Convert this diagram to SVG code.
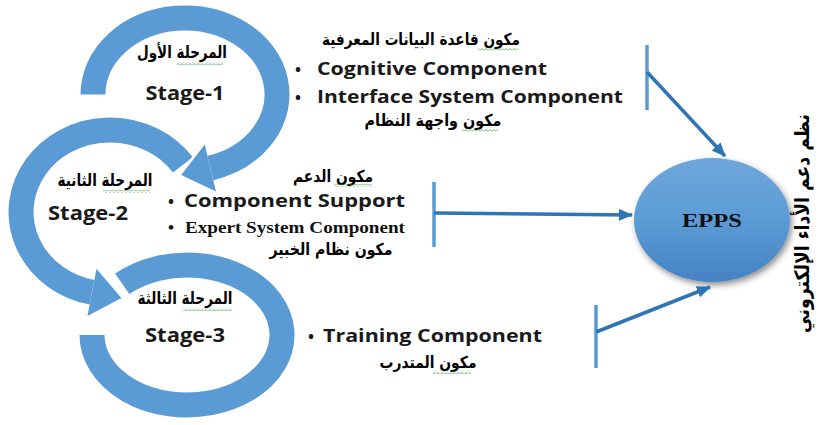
<svg xmlns="http://www.w3.org/2000/svg" width="819" height="425" viewBox="0 0 819 425">
  <style>
    .band { fill: none; stroke: #5B9BD5; stroke-width: 25; stroke-linecap: butt; }
    .band-edge { fill: none; stroke: #FFFFFF; stroke-width: 30; stroke-linecap: butt; }
    .head { fill: #5B9BD5; }
    .head-edge { fill: #FFFFFF; stroke: #FFFFFF; stroke-width: 5; stroke-linejoin: miter; }
    .en { font-family: "Open Sans", "Liberation Sans", sans-serif; font-weight: bold; fill: #1A1A1A; }
    .serif { font-family: "Liberation Serif", "DejaVu Serif", serif; font-weight: bold; fill: #111111; }
    .ar { font-family: "DejaVu Sans", "Noto Sans", sans-serif; font-weight: bold; fill: #000000; }
    .bar { stroke: #5B9BD5; stroke-width: 3.5; fill: none; }
    .arrow { stroke: #2E75B6; stroke-width: 3.5; fill: none; marker-end: url(#tip); }
    .squiggle { fill: url(#wave); }
  </style>
  <defs>
    <marker id="tip" markerUnits="userSpaceOnUse" markerWidth="14" markerHeight="12" refX="13" refY="6" orient="auto">
      <path d="M0,0 L14,6 L0,12 Z" fill="#2E75B6"/>
    </marker>
    <pattern id="wave" patternUnits="userSpaceOnUse" width="4" height="3">
      <path d="M0,2.5 L2,0.5 L4,2.5" fill="none" stroke="#3E9A3E" stroke-width="0.8"/>
    </pattern>
    <linearGradient id="eppsFill" x1="0" y1="0" x2="0" y2="1">
      <stop offset="0" stop-color="#6FA7DB"/>
      <stop offset="0.5" stop-color="#5B9BD5"/>
      <stop offset="1" stop-color="#4682C4"/>
    </linearGradient>
    <filter id="shadow" x="-20%" y="-20%" width="150%" height="160%">
      <feDropShadow dx="2" dy="3" stdDeviation="3" flood-color="#000000" flood-opacity="0.45"/>
    </filter>
  </defs>

  <!-- Stage 3 ring (drawn first, lowest) -->
  <g id="stage3">
    <path class="band-edge" d="M92,335 A95,70 0 1 0 122.2,283.8"/>
    <path class="band" d="M92,335 A95,70 0 1 0 122.2,283.8"/>
    <text class="ar" x="185" y="304" font-size="17" text-anchor="middle" textLength="95" lengthAdjust="spacingAndGlyphs">المرحلة الثالثة</text>
    <rect class="squiggle" x="183" y="308" width="49" height="3"/>
    <text class="en" x="185" y="342" font-size="19" text-anchor="middle" textLength="80" lengthAdjust="spacingAndGlyphs">Stage-3</text>
  </g>

  <!-- Stage 2 ring with arrowhead into stage 3 -->
  <g id="stage2">
    <path class="band-edge" d="M182.9,164.9 A89,82 0 1 0 91.95,292.3"/>
    <polygon class="head-edge" points="87.5,315.9 96.5,268.7 121.4,297.9"/>
    <path class="band" d="M182.9,164.9 A89,82 0 1 0 91.95,292.3"/>
    <polygon class="head" points="87.5,315.9 96.5,268.7 121.4,297.9"/>
    <text class="ar" x="105" y="186" font-size="17" text-anchor="middle" textLength="95" lengthAdjust="spacingAndGlyphs">المرحلة الثانية</text>
    <rect class="squiggle" x="103" y="190" width="47" height="3"/>
    <text class="en" x="88" y="220" font-size="19" text-anchor="middle" textLength="80" lengthAdjust="spacingAndGlyphs">Stage-2</text>
  </g>

  <!-- Stage 1 ring with arrowhead into stage 2 -->
  <g id="stage1">
    <path class="band-edge" d="M93,94.5 A92,76.5 0 1 1 210.4,168"/>
    <polygon class="head-edge" points="216,191.4 204.8,144.6 181.2,175"/>
    <path class="band" d="M93,94.5 A92,76.5 0 1 1 210.4,168"/>
    <polygon class="head" points="216,191.4 204.8,144.6 181.2,175"/>
    <text class="ar" x="182" y="58" font-size="17" text-anchor="middle" textLength="90" lengthAdjust="spacingAndGlyphs">المرحلة الأول</text>
    <rect class="squiggle" x="177" y="62" width="46" height="3"/>
    <text class="en" x="185" y="100" font-size="19" text-anchor="middle" textLength="79" lengthAdjust="spacingAndGlyphs">Stage-1</text>
  </g>

  <!-- Component lists -->
  <g id="components1">
    <text class="ar" x="421" y="45" font-size="16.5" text-anchor="middle" textLength="198" lengthAdjust="spacingAndGlyphs">مكون قاعدة البيانات المعرفية</text>
    <rect class="squiggle" x="478" y="48" width="40" height="3"/>
    <text class="en" x="298" y="75" font-size="16" text-anchor="middle">•</text>
    <text class="en" x="317" y="75" font-size="18" textLength="230" lengthAdjust="spacingAndGlyphs">Cognitive Component</text>
    <text class="en" x="298" y="103" font-size="16" text-anchor="middle">•</text>
    <text class="en" x="317" y="103" font-size="18" textLength="306" lengthAdjust="spacingAndGlyphs">Interface System Component</text>
    <text class="ar" x="433" y="126" font-size="16.5" text-anchor="middle" textLength="137" lengthAdjust="spacingAndGlyphs">مكون واجهة النظام</text>
    <rect class="squiggle" x="462" y="129" width="36" height="3"/>
  </g>

  <g id="components2">
    <text class="ar" x="333" y="182" font-size="16.5" text-anchor="middle" textLength="80" lengthAdjust="spacingAndGlyphs">مكون الدعم</text>
    <rect class="squiggle" x="334" y="184" width="38" height="3"/>
    <text class="en" x="171" y="207" font-size="16" text-anchor="middle">•</text>
    <text class="en" x="184" y="207" font-size="18" textLength="221" lengthAdjust="spacingAndGlyphs">Component Support</text>
    <text class="serif" x="171" y="233" font-size="17" text-anchor="middle">•</text>
    <text class="serif" x="185" y="233" font-size="17" textLength="220" lengthAdjust="spacingAndGlyphs">Expert System Component</text>
    <text class="ar" x="331" y="255" font-size="16.5" text-anchor="middle" textLength="123" lengthAdjust="spacingAndGlyphs">مكون نظام الخبير</text>
  </g>

  <g id="components3">
    <text class="en" x="311" y="342" font-size="16" text-anchor="middle">•</text>
    <text class="en" x="323" y="342" font-size="18" textLength="219" lengthAdjust="spacingAndGlyphs">Training Component</text>
    <text class="ar" x="428" y="368" font-size="16.5" text-anchor="middle" textLength="97" lengthAdjust="spacingAndGlyphs">مكون المتدرب</text>
    <rect class="squiggle" x="433" y="371" width="38" height="3"/>
  </g>

  <!-- EPPS target -->
  <g id="epps">
    <ellipse cx="712" cy="220" rx="78" ry="62" fill="url(#eppsFill)" filter="url(#shadow)"/>
    <text class="serif" x="712" y="227" font-size="18" text-anchor="middle" textLength="60" lengthAdjust="spacingAndGlyphs">EPPS</text>
  </g>

  <!-- Vertical title -->
  <g id="title">
    <text class="ar" transform="translate(809,223.5) rotate(-90)" x="0" y="0" font-size="20" text-anchor="middle" textLength="219" lengthAdjust="spacingAndGlyphs">نظم دعم الأداء الإلكتروني</text>
  </g>

  <!-- Brackets and connectors -->
  <g id="connectors">
    <line class="bar" x1="647" y1="45" x2="647" y2="110"/>
    <line class="arrow" x1="647" y1="72" x2="725" y2="156"/>
    <line class="bar" x1="434" y1="182" x2="434" y2="247"/>
    <line class="arrow" x1="434" y1="213" x2="632" y2="215"/>
    <line class="bar" x1="596" y1="305" x2="596" y2="368"/>
    <line class="arrow" x1="596" y1="332" x2="710" y2="287"/>
  </g>
</svg>
